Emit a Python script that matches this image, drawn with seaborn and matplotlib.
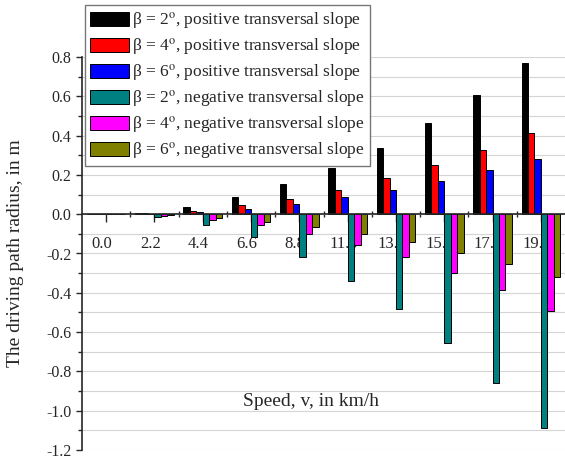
import numpy as np
import pandas as pd
import matplotlib
matplotlib.use("Agg")
import matplotlib.pyplot as plt
import matplotlib.transforms as mtransforms
import seaborn as sns
from matplotlib.ticker import MultipleLocator, FixedLocator, FormatStrFormatter

# ---- data ----
speeds = ["0.0", "2.2", "4.4", "6.6", "8.8", "11.0", "13.2", "15.4", "17.6", "19.8"]
series_labels = [
    r"β = 2$^{\mathrm{o}}$, positive transversal slope",
    r"β = 4$^{\mathrm{o}}$, positive transversal slope",
    r"β = 6$^{\mathrm{o}}$, positive transversal slope",
    r"β = 2$^{\mathrm{o}}$, negative transversal slope",
    r"β = 4$^{\mathrm{o}}$, negative transversal slope",
    r"β = 6$^{\mathrm{o}}$, negative transversal slope",
]
pos_b2 = [0.0, 0.008, 0.038, 0.086, 0.152, 0.235, 0.338, 0.464, 0.607, 0.767]
pos_b4 = [0.0, 0.005, 0.018, 0.045, 0.079, 0.125, 0.182, 0.250, 0.325, 0.412]
pos_b6 = [0.0, 0.003, 0.013, 0.029, 0.054, 0.085, 0.124, 0.169, 0.223, 0.281]
neg_b2 = [0.0, -0.015, -0.056, -0.118, -0.218, -0.338, -0.482, -0.656, -0.860, -1.088]
neg_b4 = [0.0, -0.008, -0.028, -0.056, -0.100, -0.155, -0.220, -0.298, -0.388, -0.493]
neg_b6 = [0.0, -0.005, -0.017, -0.040, -0.066, -0.101, -0.143, -0.197, -0.251, -0.319]
colors = ["#000000", "#FF0000", "#0000FF", "#008080", "#FF00FF", "#808000"]

all_series = [pos_b2, pos_b4, pos_b6, neg_b2, neg_b4, neg_b6]
df = pd.DataFrame({
    "speed": speeds * len(all_series),
    "value": np.concatenate(all_series),
    "series": np.repeat(series_labels, len(speeds)),
})

sns.set_style("ticks")
plt.rcParams["font.family"] = ["Liberation Serif", "DejaVu Serif"]
plt.rcParams["mathtext.fontset"] = "stix"

W, H = 565, 459
fig = plt.figure(figsize=(W / 100, H / 100), dpi=100)
left, right, top, bottom = 82, 565, 57, 450
ax = fig.add_axes([left / W, 1 - bottom / H, (right - left) / W, (bottom - top) / H])

sns.barplot(data=df, x="speed", y="value", hue="series", order=speeds,
            hue_order=series_labels, palette=colors, saturation=1,
            edgecolor="black", linewidth=0.7, width=0.8, errorbar=None, ax=ax)

ax.set_xlim(-0.5, 9.5)
ax.set_ylim(-1.2, 0.8)

# spines
ax.spines["top"].set_visible(False)
ax.spines["right"].set_visible(False)
ax.spines["bottom"].set_position(("data", 0))
ax.spines["bottom"].set_linewidth(1.2)
ax.spines["left"].set_linewidth(1.2)
ax.spines["bottom"].set_zorder(5)

# y ticks
ax.yaxis.set_major_locator(MultipleLocator(0.2))
ax.yaxis.set_minor_locator(MultipleLocator(0.1))
ax.yaxis.set_major_formatter(FormatStrFormatter("%.1f"))
ax.tick_params(axis="y", which="major", direction="out", length=4.5, width=1, labelsize=11.5, pad=3)
ax.tick_params(axis="y", which="minor", direction="out", length=3, width=1)
ax.grid(axis="y", which="both", color="#d4d4d4", linewidth=0.8)
ax.set_axisbelow(True)

# x ticks
ax.xaxis.set_minor_locator(FixedLocator(np.arange(0.5, 9.5, 1.0)))
ax.tick_params(axis="x", which="major", direction="out", length=6, width=1, labelsize=12, pad=10)
ax.tick_params(axis="x", which="minor", direction="inout", length=5, width=1)
shift = mtransforms.ScaledTranslation(-3 / 72, 0, fig.dpi_scale_trans)
for lbl in ax.get_xticklabels():
    lbl.set_transform(lbl.get_transform() + shift)

# labels
ax.set_xlabel("Speed, v, in km/h", fontsize=14)
ax.xaxis.set_label_coords((311 - left) / (right - left), (bottom - 393) / (bottom - top))
ax.set_ylabel("The driving path radius, in m", fontsize=14)
ax.yaxis.set_label_coords((24 - left) / (right - left), 0.5)

# legend
handles, labels = ax.get_legend_handles_labels()
leg = ax.legend(handles, labels, loc="upper left",
                bbox_to_anchor=(85 / W, 1 - 5 / H), bbox_transform=fig.transFigure,
                borderaxespad=0, fontsize=12.5, handlelength=2.25, handleheight=0.85,
                handletextpad=0.15, labelspacing=0.3, borderpad=0.3,
                frameon=True, fancybox=False, framealpha=1, edgecolor="#777777")
leg.get_frame().set_linewidth(1.0)
leg.set_zorder(10)

fig.savefig("out.png", dpi=100)
